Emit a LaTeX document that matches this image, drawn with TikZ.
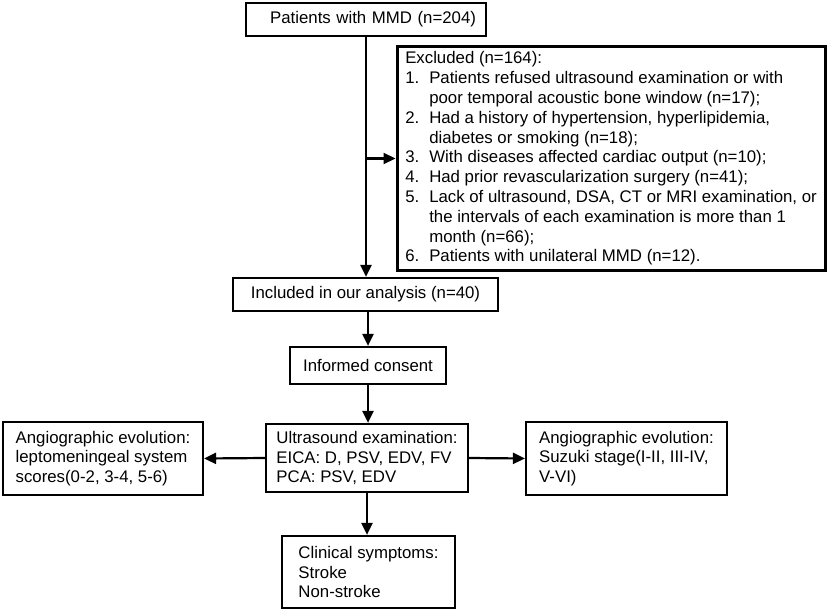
\documentclass[tikz,border=0pt]{standalone}
\usepackage{fontspec}
\setmainfont{Liberation Sans}
\usepackage{tikz}
\usetikzlibrary{arrows.meta,calc}
\newcommand{\exnum}[1]{\makebox[24pt][l]{#1.}}
\newcommand{\exgap}{\hspace*{24pt}}

\begin{document}
\begin{tikzpicture}[x=1pt,y=-1pt,
  box/.style={draw,line width=2.2pt,align=left,inner sep=0pt,
    font=\fontsize{16.8}{19.8}\selectfont},
  flow/.style={line width=2.2pt,-{Triangle[length=12pt,width=11pt]}}]
\useasboundingbox (0,0) rectangle (829,612);
\node[box,text width=220pt,inner xsep=10pt,align=right,minimum height=33pt] (patients) at (366,19.5) {Patients with MMD (n=204)};
\node[box,line width=3pt,minimum width=428pt,minimum height=223pt] (excluded) at (611,158.5) {%
Excluded (n=164):\\
\exnum{1}Patients refused ultrasound examination or with\\
\exgap poor temporal acoustic bone window (n=17);\\
\exnum{2}Had a history of hypertension, hyperlipidemia,\\
\exgap diabetes or smoking (n=18);\\
\exnum{3}With diseases affected cardiac output (n=10);\\
\exnum{4}Had prior revascularization surgery (n=41);\\
\exnum{5}Lack of ultrasound, DSA, CT or MRI examination, or\\
\exgap the intervals of each examination is more than 1\\
\exgap month (n=66);\\
\exnum{6}Patients with unilateral MMD (n=12).};
\node[box,minimum width=265pt,minimum height=33pt] (included) at (365.5,294.5) {Included in our analysis (n=40)};
\node[box,minimum width=156pt,minimum height=37pt] (consent) at (368,365.5) {Informed consent};
\node[box,minimum width=202pt,minimum height=68pt] (ultrasound) at (367,458) {Ultrasound examination:\\EICA: D, PSV, EDV, FV\\PCA: PSV, EDV};
\node[box,minimum width=200pt,minimum height=73pt] (lepto) at (103,458.5) {Angiographic evolution:\\leptomeningeal system\\scores(0-2, 3-4, 5-6)};
\node[box,minimum width=201pt,minimum height=73pt] (suzuki) at (626.5,458.5) {Angiographic evolution:\\Suzuki stage(I-II, III-IV,\\V-VI)};
\node[box,minimum width=173pt,minimum height=72pt] (clinical) at (368.5,572) {Clinical symptoms:\\Stroke\\Non-stroke};
\coordinate (branch) at (patients.south |- excluded.west);
\draw[flow] (patients.south) -- (patients.south |- included.north);
\draw[flow] (branch) -- (excluded.west);
\draw[flow] (included.south -| consent.north) -- (consent.north);
\draw[flow] (consent.south) -- (consent.south |- ultrasound.north);
\draw[flow] (ultrasound.west) -- (lepto.east);
\draw[flow] (ultrasound.east) -- (suzuki.west);
\draw[flow] (ultrasound.south) -- (ultrasound.south |- clinical.north);
\end{tikzpicture}
\end{document}
